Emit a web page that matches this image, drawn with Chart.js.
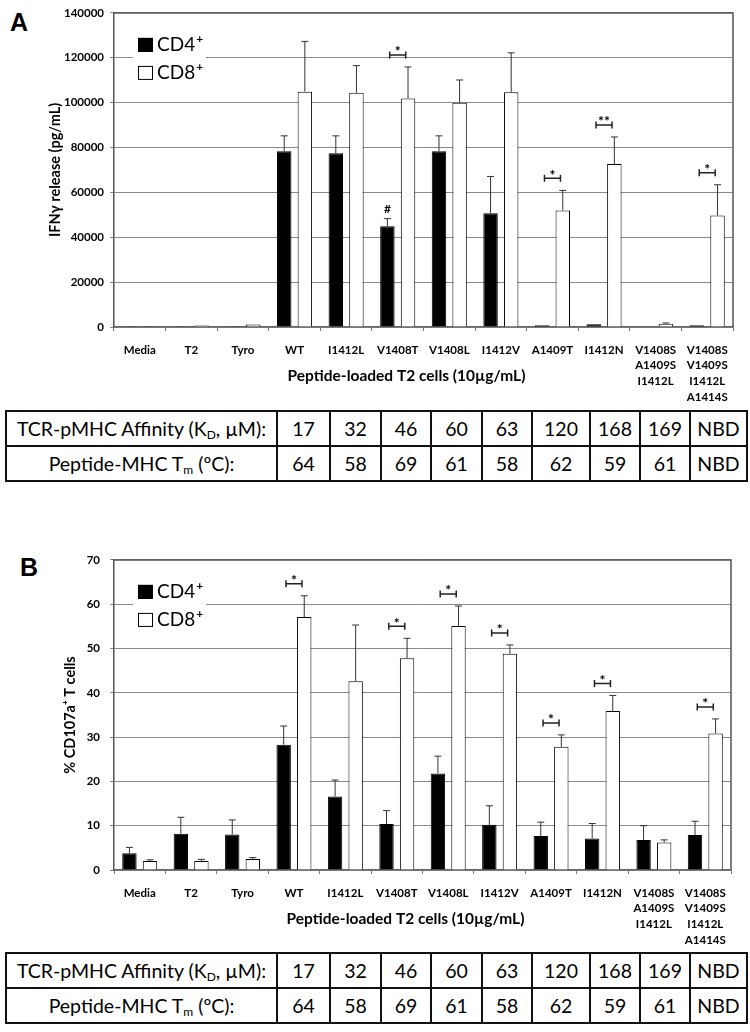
<!DOCTYPE html>
<html>
<head>
<meta charset="utf-8">
<script src="https://cdn.jsdelivr.net/npm/chart.js@4.4.1/dist/chart.umd.min.js"></script>
<style>
  body { margin:0; width:750px; height:1032px; background:#fff; position:relative; overflow:hidden; font-family: Lato, "Liberation Sans", sans-serif; }
  canvas { position:absolute; left:0; }
  .letter { position:absolute; font-family:"Liberation Sans", Arial, sans-serif; font-weight:bold; font-size:25px; line-height:1; }
  table.aff { position:absolute; left:5px; width:741px; border-collapse:collapse; table-layout:fixed; font-size:19.5px; color:#000; }
  table.aff td { border:2px solid #111; height:33px; padding:0; text-align:center; white-space:nowrap; }
  table.aff sub { font-size:12px; vertical-align:-3px; line-height:0; }
</style>
</head>
<body>
<div class="letter" style="left:10px; top:10px;">A</div>
<canvas id="chartA" width="750" height="405" style="top:0px;"></canvas>
<table class="aff" id="tableA" style="top:410px;"></table>

<div class="letter" style="left:20px; top:555px;">B</div>
<canvas id="chartB" width="750" height="405" style="top:543px;"></canvas>
<table class="aff" id="tableB" style="top:952px;"></table>

<script>
// categories (multi-line tick labels)
const categories = [["Media"], ["T2"], ["Tyro"], ["WT"], ["I1412L"], ["V1408T"], ["V1408L"], ["I1412V"],
    ["A1409T"], ["I1412N"], ["V1408S", "A1409S", "I1412L"], ["V1408S", "V1409S", "I1412L", "A1414S"]];

// panel A - IFNy release (pg/mL)
const ifnCD4 = [300, 300, 300, 78300, 77400, 44900, 78300, 50700, 800, 1200, 200, 800];
const ifnCD4Err = [0, 0, 0, 6900, 7800, 3400, 6900, 16400, 0, 0, 0, 0];
const ifnCD8 = [300, 700, 1100, 104900, 104400, 101800, 100000, 104600, 51900, 72600, 1500, 49700];
const ifnCD8Err = [0, 0, 0, 22400, 12100, 14100, 10100, 17600, 9000, 12100, 300, 13700];
const ifnSig = ["", "", "", "", "", "*", "", "", "*", "**", "", "*"];
const ifnCD4Mark = ["", "", "", "", "", "#", "", "", "", "", "", ""];

// panel B - % CD107a+ T cells
const cdCD4 = [3.8, 8.2, 8.0, 28.3, 16.6, 10.4, 21.8, 10.2, 7.7, 7.1, 6.8, 7.9];
const cdCD4Err = [1.3, 3.7, 3.3, 4.2, 3.7, 3.0, 3.9, 4.3, 3.1, 3.4, 3.2, 3.1];
const cdCD8 = [2.05, 2.05, 2.5, 57.1, 42.6, 47.8, 55.1, 48.8, 27.8, 35.9, 6.2, 30.8];
const cdCD8Err = [0.25, 0.35, 0.3, 4.8, 12.7, 4.5, 4.5, 2.0, 2.7, 3.5, 0.6, 3.3];
const cdSig = ["", "", "", "*", "", "*", "*", "*", "*", "*", "", "*"];
const cdCD4Mark = ["", "", "", "", "", "", "", "", "", "", "", ""];

// table rows
const affinity = ["17", "32", "46", "60", "63", "120", "168", "169", "NBD"];
const meltTemp = ["64", "58", "69", "61", "58", "62", "59", "61", "NBD"];
const colWidths = [271, 53, 51, 50, 51, 50, 58, 50, 50, 57];

Chart.defaults.font.family = "Lato, 'Liberation Sans', sans-serif";
Chart.defaults.color = "#000";

const overlay = {
    id: "overlay",
    afterDatasetsDraw(chart, args, opts) {
        const ctx = chart.ctx;
        const area = chart.chartArea;
        const ys = chart.scales.y;
        const xs = chart.scales.x;
        ctx.save();

        // plot box top + right
        ctx.strokeStyle = "#555";
        ctx.lineWidth = 1.5;
        ctx.beginPath();
        ctx.moveTo(area.left, area.top);
        ctx.lineTo(area.right, area.top);
        ctx.lineTo(area.right, area.bottom);
        ctx.stroke();

        // error bars (upper only)
        const tops = categories.map(() => area.bottom);
        chart.data.datasets.forEach((ds, di) => {
            const meta = chart.getDatasetMeta(di);
            meta.data.forEach((bar, i) => {
                const e = ds.errors[i];
                const yTop = ys.getPixelForValue(ds.data[i] + e);
                tops[i] = Math.min(tops[i], yTop);
                if (!e) return;
                ctx.strokeStyle = opts.errColor;
                ctx.lineWidth = 1;
                ctx.beginPath();
                ctx.moveTo(bar.x, bar.y);
                ctx.lineTo(bar.x, yTop);
                ctx.moveTo(bar.x - 3.5, yTop);
                ctx.lineTo(bar.x + 3.5, yTop);
                ctx.stroke();
            });
        });

        // "#" mark over CD4 bars
        const cd4Meta = chart.getDatasetMeta(0);
        ctx.fillStyle = "#000";
        ctx.textAlign = "center";
        ctx.textBaseline = "middle";
        ctx.font = "bold 12px Lato, sans-serif";
        opts.marks.forEach((m, i) => {
            if (!m) return;
            const ds = chart.data.datasets[0];
            const yTop = ys.getPixelForValue(ds.data[i] + ds.errors[i]);
            ctx.fillText(m, cd4Meta.data[i].x, yTop - 10);
        });

        // significance brackets
        opts.sig.forEach((s, i) => {
            if (!s) return;
            const cx = xs.getPixelForValue(i);
            const by = tops[i] - 12;
            ctx.strokeStyle = "#222";
            ctx.lineWidth = 1.5;
            ctx.beginPath();
            ctx.moveTo(cx - 8, by);
            ctx.lineTo(cx + 8, by);
            ctx.moveTo(cx - 8, by - 3.5);
            ctx.lineTo(cx - 8, by + 3.5);
            ctx.moveTo(cx + 8, by - 3.5);
            ctx.lineTo(cx + 8, by + 3.5);
            ctx.stroke();
            ctx.font = "bold 14px Lato, sans-serif";
            ctx.fillText(s, cx, by - 3);
        });

        // legend inside plot
        ctx.fillStyle = "#fff";
        ctx.fillRect(area.left + 19, area.top + 20, 73, 52);
        chart.data.datasets.forEach((ds, di) => {
            const sy = area.top + 25 + di * 28;
            ctx.fillStyle = ds.backgroundColor;
            ctx.fillRect(area.left + 24, sy, 15, 14);
            ctx.strokeStyle = "#000";
            ctx.lineWidth = 1;
            ctx.strokeRect(area.left + 24.5, sy + 0.5, 14, 13);
            ctx.fillStyle = "#000";
            ctx.textAlign = "left";
            ctx.textBaseline = "middle";
            ctx.font = "19px Lato, sans-serif";
            ctx.fillText(ds.label, area.left + 43, sy + 7);
            const w = ctx.measureText(ds.label).width;
            ctx.font = "bold 12px Lato, sans-serif";
            ctx.fillText("+", area.left + 44 + w, sy + 1);
        });

        // x axis title
        ctx.fillStyle = "#000";
        ctx.textAlign = "center";
        ctx.textBaseline = "middle";
        ctx.font = "bold 15.5px Lato, sans-serif";
        ctx.fillText(opts.xTitle, (area.left + area.right) / 2 - 17, area.bottom + 49);
        ctx.restore();
    }
};

function makeChart(id, cd4, cd4Err, cd8, cd8Err, yMax, yStep, yTitle, sig, marks, pad, titlePad, tickPad) {
    const ctx = document.getElementById(id).getContext("2d");
    return new Chart(ctx, {
        type: "bar",
        data: {
            labels: categories,
            datasets: [
                { label: "CD4", data: cd4, errors: cd4Err, backgroundColor: "#000", borderColor: "#000", borderWidth: 1 },
                { label: "CD8", data: cd8, errors: cd8Err, backgroundColor: "#fff", borderColor: "#000", borderWidth: 1 }
            ]
        },
        options: {
            responsive: false,
            animation: false,
            layout: { padding: pad },
            datasets: { bar: { categoryPercentage: 0.8, barPercentage: 0.7 } },
            plugins: {
                legend: { display: false },
                tooltip: { enabled: false },
                overlay: { sig: sig, marks: marks, errColor: "#333", xTitle: "Peptide-loaded T2 cells (10\u00b5g/mL)" }
            },
            scales: {
                x: {
                    offset: true,
                    grid: { offset: true, drawOnChartArea: false, tickLength: 4, color: "#777" },
                    border: { color: "#666", width: 1.5 },
                    ticks: { autoSkip: false, maxRotation: 0, padding: 11, color: "#000",
                        font: { size: 11.5, weight: "bold", lineHeight: 1.37 } },
                    afterFit: s => { s.height = 78; }
                },
                y: {
                    min: 0,
                    max: yMax,
                    ticks: { stepSize: yStep, padding: tickPad, color: "#000", font: { size: 11.5, weight: "bold" },
                        callback: v => String(v) },
                    grid: { color: "#8a8a8a", tickLength: 4 },
                    border: { color: "#555", width: 1.5 },
                    title: { display: true, text: yTitle, color: "#000", padding: { top: titlePad, bottom: 0 },
                        font: { size: 14.5, weight: "bold" } },
                    afterFit: s => { s.width = 114; }
                }
            }
        },
        plugins: [overlay]
    });
}

makeChart("chartA", ifnCD4, ifnCD4Err, ifnCD8, ifnCD8Err, 140000, 20000, "IFN\u03b3 release (pg/mL)",
    ifnSig, ifnCD4Mark, { left: 0, top: 7, right: 17, bottom: 0 }, 47, 6);
makeChart("chartB", cdCD4, cdCD4Err, cdCD8, cdCD8Err, 70, 10, "% CD107a\u207a T cells",
    cdSig, cdCD4Mark, { left: 0, top: 10, right: 19, bottom: 0 }, 62, 10);

function fillTable(id) {
    const t = document.getElementById(id);
    let html = "<colgroup>" + colWidths.map(w => '<col style="width:' + w + 'px">').join("") + "</colgroup>";
    html += "<tr><td>TCR-pMHC Affinity (K<sub>D</sub>, \u00b5M):</td>" + affinity.map(v => "<td>" + v + "</td>").join("") + "</tr>";
    html += "<tr><td>Peptide-MHC T<sub>m</sub> (\u00baC):</td>" + meltTemp.map(v => "<td>" + v + "</td>").join("") + "</tr>";
    t.innerHTML = html;
}
fillTable("tableA");
fillTable("tableB");
</script>
</body>
</html>
